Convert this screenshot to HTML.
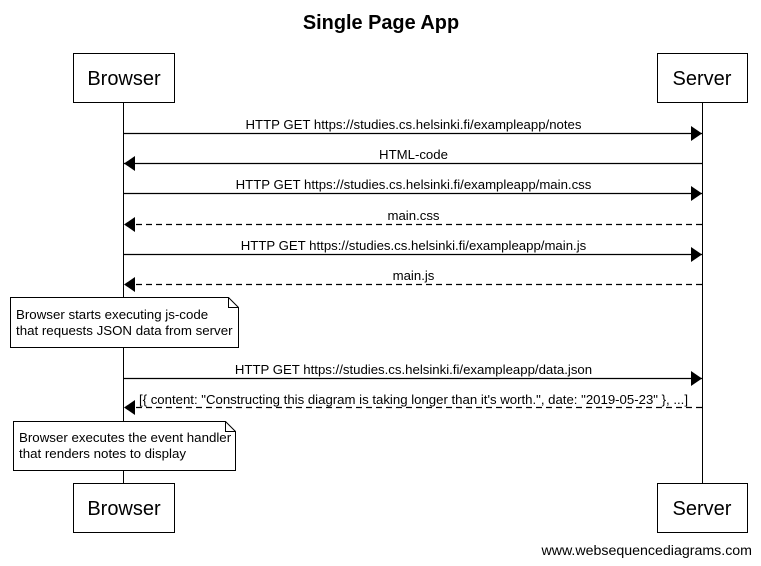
<!DOCTYPE html>
<html><head><meta charset="utf-8"><style>
html,body{margin:0;padding:0;background:#fff;}
svg{display:block;font-family:"Liberation Sans",Arial,sans-serif;}
</style></head><body>
<svg width="761" height="566" viewBox="0 0 761 566" xmlns="http://www.w3.org/2000/svg">
<defs>
<marker id="a" markerWidth="11" markerHeight="15" refX="11" refY="7.5" orient="auto" markerUnits="userSpaceOnUse">
<path d="M0,0 L11,7.5 L0,15 z" fill="#000"/></marker>
</defs>
<text x="381" y="29" text-anchor="middle" font-size="19.9" font-weight="bold">Single Page App</text>
<g stroke="#000" stroke-width="1" fill="none">
<line x1="123.5" y1="102" x2="123.5" y2="483"/>
<line x1="702.5" y1="102" x2="702.5" y2="483"/>
</g>
<g stroke="#000" stroke-width="1" fill="#fff">
<rect x="73.5" y="53.5" width="101" height="49"/>
<rect x="657.5" y="53.5" width="90" height="49"/>
<rect x="73.5" y="483.5" width="101" height="49"/>
<rect x="657.5" y="483.5" width="90" height="49"/>
</g>
<g font-size="20" text-anchor="middle">
<text x="124" y="85">Browser</text>
<text x="702" y="85">Server</text>
<text x="124" y="515">Browser</text>
<text x="702" y="515">Server</text>
</g>
<g stroke="#000" stroke-width="1.3">
<line x1="124" y1="133.5" x2="702" y2="133.5" marker-end="url(#a)"/>
<line x1="702" y1="163.5" x2="124" y2="163.5" marker-end="url(#a)"/>
<line x1="124" y1="193.5" x2="702" y2="193.5" marker-end="url(#a)"/>
<line x1="702" y1="224.5" x2="124" y2="224.5" marker-end="url(#a)" stroke-dasharray="6,4"/>
<line x1="124" y1="254.5" x2="702" y2="254.5" marker-end="url(#a)"/>
<line x1="702" y1="284.5" x2="124" y2="284.5" marker-end="url(#a)" stroke-dasharray="6,4"/>
<line x1="124" y1="378.5" x2="702" y2="378.5" marker-end="url(#a)"/>
<line x1="702" y1="407.5" x2="124" y2="407.5" marker-end="url(#a)" stroke-dasharray="6,4"/>
</g>
<g font-size="13.2" text-anchor="middle">
<text x="413.5" y="129">HTTP GET https://studies.cs.helsinki.fi/exampleapp/notes</text>
<text x="413.5" y="159">HTML-code</text>
<text x="413.5" y="189">HTTP GET https://studies.cs.helsinki.fi/exampleapp/main.css</text>
<text x="413.5" y="220">main.css</text>
<text x="413.5" y="250">HTTP GET https://studies.cs.helsinki.fi/exampleapp/main.js</text>
<text x="413.5" y="280">main.js</text>
<text x="413.5" y="374">HTTP GET https://studies.cs.helsinki.fi/exampleapp/data.json</text>
<text x="413.5" y="404">[{ content: "Constructing this diagram is taking longer than it's worth.", date: "2019-05-23" }, ...]</text>
</g>
<g stroke="#000" stroke-width="1" fill="#fff">
<path d="M10.5,297.5 H228.5 L238.5,307.5 V347.5 H10.5 z"/>
<path d="M228.5,297.5 V307.5 H238.5" fill="none"/>
<path d="M13.5,421.5 H225.5 L235.5,431.5 V470.5 H13.5 z"/>
<path d="M225.5,421.5 V431.5 H235.5" fill="none"/>
</g>
<g font-size="13.3">
<text x="16" y="319">Browser starts executing js-code</text>
<text x="16" y="335">that requests JSON data from server</text>
<text x="19" y="442">Browser executes the event handler</text>
<text x="19" y="458">that renders notes to display</text>
</g>
<text x="752" y="555" text-anchor="end" font-size="14.2">www.websequencediagrams.com</text>
</svg>
</body></html>
